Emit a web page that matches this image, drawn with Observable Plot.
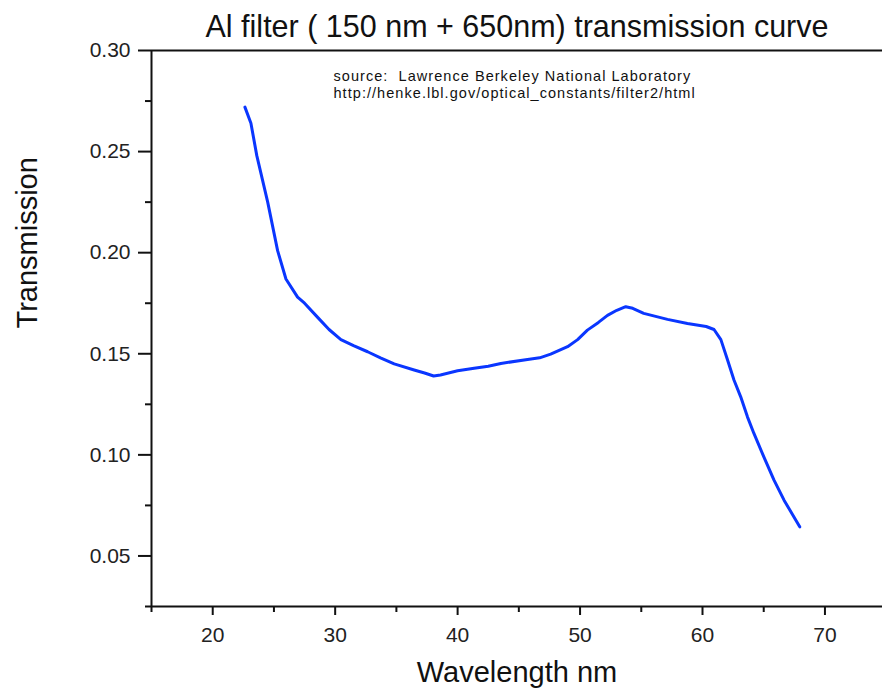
<!DOCTYPE html>
<html>
<head>
<meta charset="utf-8">
<script src="https://cdn.jsdelivr.net/npm/d3@7"></script>
<script src="https://cdn.jsdelivr.net/npm/@observablehq/plot@0.6"></script>
<style>
  html, body { margin: 0; padding: 0; background: #fff; overflow: hidden; }
  #chart { width: 882px; height: 700px; }
  svg text { font-family: "Liberation Sans", Arial, sans-serif; }
</style>
</head>
<body>
<div id="chart"></div>
<script>
const title = "Al filter ( 150 nm + 650nm) transmission curve";
const sourceLines = ["source:\u00a0 Lawrence Berkeley National Laboratory",
                     "http://henke.lbl.gov/optical_constants/filter2/html"];
const xLabel = "Wavelength nm";
const yLabel = "Transmission";

const wavelength = [22.63, 23.12, 23.6, 24.49, 25.3, 25.98, 26.93, 27.5, 28.57, 29.5,
  30.47, 31.5, 32.65, 33.7, 34.82, 36.45, 37.3, 38.04, 38.6, 40.0,
  41.35, 42.5, 43.53, 45.71, 46.7, 47.6, 48.98, 49.8, 50.6, 51.5,
  52.24, 53.0, 53.73, 54.3, 55.2, 57.14, 58.77, 60.3, 60.94, 61.5,
  62.04, 62.57, 63.12, 63.67, 64.2, 65.0, 65.84, 66.66, 67.3, 67.94];
const transmission = [0.272, 0.264, 0.248, 0.225, 0.201, 0.187, 0.178, 0.175, 0.168, 0.162,
  0.157, 0.154, 0.151, 0.148, 0.145, 0.142, 0.1405, 0.139, 0.1395, 0.1416,
  0.1428, 0.1438, 0.1452, 0.1472, 0.148, 0.1498, 0.1535, 0.157, 0.1617, 0.1655,
  0.169, 0.1715, 0.1733, 0.1725, 0.170, 0.167, 0.165, 0.1635, 0.162, 0.157,
  0.147, 0.137, 0.1287, 0.1188, 0.1106, 0.0991, 0.0875, 0.0776, 0.071, 0.0644];

const xMajor = [20, 30, 40, 50, 60, 70];
const xMinor = [15, 25, 35, 45, 55, 65];
const yMajor = [0.05, 0.10, 0.15, 0.20, 0.25, 0.30];
const yMinor = [0.025, 0.075, 0.125, 0.175, 0.225, 0.275];

const data = wavelength.map((w, i) => ({w, t: transmission[i]}));

const chart = Plot.plot({
  width: 882,
  height: 700,
  marginTop: 50,
  marginBottom: 94,
  marginLeft: 151,
  marginRight: 0,
  style: {background: "#fff", color: "#111"},
  x: {domain: [15, 74.7], axis: null, label: null},
  y: {domain: [0.025, 0.30], axis: null, label: null},
  marks: [
    Plot.axisY(yMinor, {tickSize: 6, strokeWidth: 2, tickFormat: () => "", stroke: "#111", label: null}),
    Plot.axisY(yMajor, {tickSize: 13, tickPadding: 8, strokeWidth: 2, fontSize: 21,
      tickFormat: d3.format(".2f"), stroke: "#111", fill: "#222", label: null}),
    Plot.axisX(xMinor, {tickSize: 6, strokeWidth: 2, tickFormat: () => "", stroke: "#111", label: null}),
    Plot.axisX(xMajor, {tickSize: 9, tickPadding: 12, strokeWidth: 2, fontSize: 21,
      stroke: "#111", fill: "#222", label: null}),
    Plot.ruleX([15], {stroke: "#111", strokeWidth: 2}),
    Plot.ruleY([0.025], {stroke: "#111", strokeWidth: 2}),
    Plot.ruleY([0.30], {stroke: "#111", strokeWidth: 2}),
    Plot.line(data, {x: "w", y: "t", stroke: "#0a36ff", strokeWidth: 3}),
    Plot.text([title], {frameAnchor: "top", lineAnchor: "bottom", dy: -14,
      fontSize: 30.5, fill: "#111"}),
    Plot.text([sourceLines.join("\n")], {frameAnchor: "top-left", textAnchor: "start",
      lineAnchor: "top", dx: 182, dy: 19, fontSize: 14.5, lineHeight: 1.15, fill: "#111",
      className: "source-note"}),
    Plot.text([yLabel], {frameAnchor: "left", rotate: -90, dx: -124, fontSize: 29, fill: "#111"}),
    Plot.text([xLabel], {frameAnchor: "bottom", dy: 75, fontSize: 29, fill: "#111"})
  ]
});
document.getElementById("chart").appendChild(chart);
d3.select(chart).selectAll(".source-note text, .source-note tspan")
  .style("letter-spacing", "1.05px");
</script>
</body>
</html>
